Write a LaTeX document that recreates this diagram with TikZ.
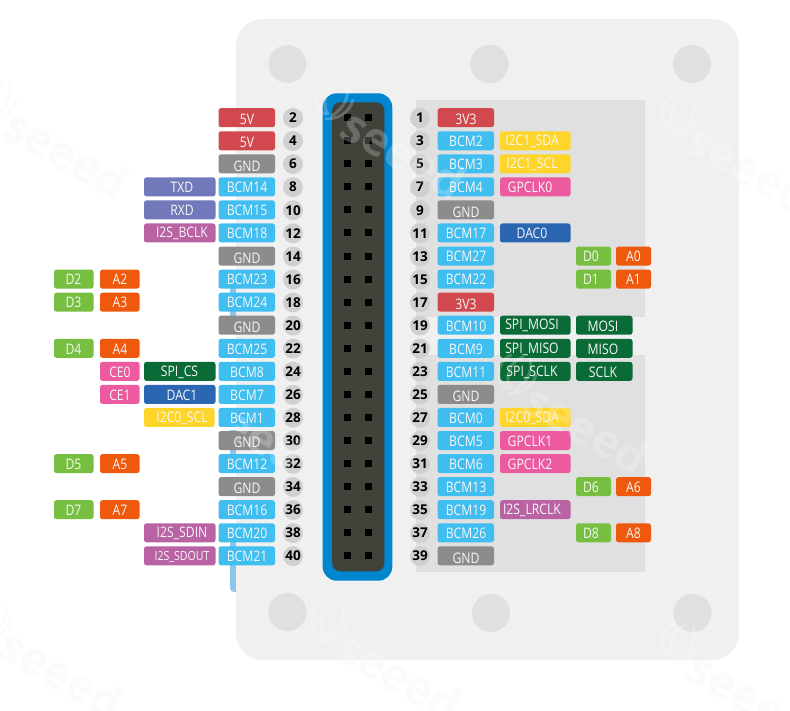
\documentclass[tikz,border=0pt]{standalone}
\usepackage{fontspec}
\setmainfont[FakeStretch=0.84]{Open Sans}
\newfontfamily\numfont{Open Sans}
\definecolor{cboard}{HTML}{F0F0F0}
\definecolor{chole}{HTML}{E0E0E0}
\definecolor{cconn}{HTML}{0085CF}
\definecolor{chead}{HTML}{41423A}
\definecolor{cnum}{HTML}{D0D0D0}
\definecolor{cstub}{HTML}{8EC5EA}
\definecolor{cred}{HTML}{D1494E}
\definecolor{cgray}{HTML}{8C8C8C}
\definecolor{cbcm}{HTML}{41BEF0}
\definecolor{cyel}{HTML}{FED52A}
\definecolor{cpink}{HTML}{EC5BA0}
\definecolor{cuart}{HTML}{7279BB}
\definecolor{ci2s}{HTML}{B962A4}
\definecolor{cspi}{HTML}{0B6B37}
\definecolor{cdac}{HTML}{2A66B1}
\definecolor{cdig}{HTML}{77BF41}
\definecolor{cana}{HTML}{EE590D}
\tikzset{
  pinbox/.style={rounded corners=2.5pt,inner sep=0pt,minimum height=19pt,draw=none},
  pinlabel/.style={inner sep=0pt,text=white!94!gray,font=\fontsize{14.5}{15}\selectfont},
  numdot/.style={circle,fill=cnum,minimum size=20pt,inner sep=0pt,text=black,font=\numfont\bfseries\fontsize{13.5}{14}\selectfont},
  pinhole/.style={fill=black,minimum size=7pt,inner sep=0pt},
  mount/.style={circle,fill=chole,minimum size=38pt,inner sep=0pt},
  wmtext/.style={inner sep=0pt,rotate=-30,font=\numfont\bfseries\fontsize{46}{46}\selectfont},
}
% [dy]{pin}{x1}{x2}{text centre x}{fill}{text}
\newcommand\pb[7][0]{%
  \pgfmathsetmacro\ry{118+floor((#2-1)/2)*23.06-0.3}%
  \pgfmathsetmacro\bw{#4-#3}%
  \pgfmathsetmacro\bc{(#4+#3)/2}%
  \pgfmathsetmacro\ly{\ry+#1+0.6}%
  \node[pinbox,fill=#6,minimum width=\bw pt] (box-#2-#3) at (\bc,\ry) {};
  \node[pinlabel] (lab-#2-#3) at (#5,\ly) {#7};
}
\newcommand\LA[4][0]{\pb[#1]{#2}{218.5}{275}{247}{#3}{#4}}
\newcommand\LB[3]{\pb{#1}{144}{215.5}{182}{#2}{#3}}
\newcommand\LC[3]{\pb{#1}{100}{139.5}{120}{#2}{#3}}
\newcommand\LD[3]{\pb{#1}{54}{93.5}{73.5}{#2}{#3}}
\newcommand\RA[4][0]{\pb[#1]{#2}{437.5}{494}{466}{#3}{#4}}
\newcommand\RB[3]{\pb{#1}{500}{570.5}{532}{#2}{#3}}
\newcommand\RG[3]{\pb{#1}{500}{570.5}{530}{#2}{#3}}
\newcommand\RC[3]{\pb{#1}{576}{611}{591}{#2}{#3}}
\newcommand\RD[3]{\pb{#1}{616}{651}{633.5}{#2}{#3}}
\newcommand\RE[3]{\pb{#1}{576}{632.5}{603}{#2}{#3}}
\newcommand\wmark[2]{%
  \begin{scope}[shift={(#1,#2)},line cap=round,line width=3pt,fill=none]
    \draw (-4,-20) .. controls (-20,-12) and (-20,8) .. (-6,14);
    \draw (8,-18) .. controls (-8,-12) and (-10,6) .. (-4,14);
    \draw (15,-16) .. controls (18,-4) and (12,8) .. (0,16);
    \draw (21,0) .. controls (17,14) and (5,19) .. (-6,19);
  \end{scope}
  \node[wmtext,anchor=west] (wm-#1-#2) at ($(#1,#2)+(14,20)$) {seeed};
}
\usetikzlibrary{calc}
\begin{document}
\begin{tikzpicture}[x=1pt,y=-1pt]
\useasboundingbox (0,0) rectangle (790,711);
\clip (0,0) rectangle (790,711);
\fill[white] (0,0) rectangle (790,711);
% faint watermark on the white ground
\begin{scope}[color=black!1.5,text=black!1.5]
  \foreach \wx/\wy in {-10/620,328/622,678/643,678/115,-5/100}{\wmark{\wx}{\wy}}
\end{scope}
% stub behind the board
\fill[cstub] (230,288) rectangle (236,320);
\fill[cstub] (230,430) rectangle (236,470);
\fill[cstub,rounded corners=4pt] (230,525) -- (230,592) -- (240,592) -- (240,525) -- cycle;
% board
\fill[cboard,rounded corners=27pt] (236,19) rectangle (739,660);
\fill[chole] (416,100) rectangle (645,317);
\fill[chole] (416,355) rectangle (645,572);
\node[mount] (m1) at (287.5,64) {};
\node[mount] (m2) at (489.5,64) {};
\node[mount] (m3) at (692,64) {};
\node[mount] (m4) at (287.5,612) {};
\node[mount] (m5) at (491,613) {};
\node[mount] (m6) at (692.5,613) {};
% header
\fill[cconn,rounded corners=14pt] (322.7,93.3) rectangle (392.3,580.7);
\fill[chead,rounded corners=8pt] (332.2,102.3) rectangle (384.4,571.3);
\foreach \r in {0,...,19}{
  \pgfmathsetmacro\py{117.7+\r*23.06}
  \node[pinhole] (pa\r) at (347.5,\py) {};
  \node[pinhole] (pb\r) at (368.5,\py) {};
}
% pin numbers
\foreach \n in {1,3,...,39}{
  \pgfmathsetmacro\py{118+(\n-1)/2*23.06}
  \node[numdot] (n\n) at (420,\py) {\n};
}
\foreach \n in {2,4,...,40}{
  \pgfmathsetmacro\py{118+(\n-2)/2*23.06}
  \node[numdot] (n\n) at (293,\py) {\n};
}
% left side
\LA[1.5]{2}{cred}{5V}
\LA[1.5]{4}{cred}{5V}
\LA[1.5]{6}{cgray}{GND}
\LA{8}{cbcm}{BCM14}
\LA{10}{cbcm}{BCM15}
\LA{12}{cbcm}{BCM18}
\LA[1.5]{14}{cgray}{GND}
\LA{16}{cbcm}{BCM23}
\LA{18}{cbcm}{BCM24}
\LA[1.5]{20}{cgray}{GND}
\LA{22}{cbcm}{BCM25}
\LA{24}{cbcm}{BCM8}
\LA{26}{cbcm}{BCM7}
\LA{28}{cbcm}{BCM1}
\LA[1.5]{30}{cgray}{GND}
\LA{32}{cbcm}{BCM12}
\LA[1.5]{34}{cgray}{GND}
\LA{36}{cbcm}{BCM16}
\LA{38}{cbcm}{BCM20}
\LA{40}{cbcm}{BCM21}
\LB{8}{cuart}{TXD}
\LB{10}{cuart}{RXD}
\LB{12}{ci2s}{I2S\_BCLK}
\pb{24}{144}{215.5}{179.5}{cspi}{SPI\_CS}
\LB{26}{cdac}{DAC1}
\pb{28}{144}{214.5}{182}{cyel}{I2C0\_SCL}
\LB{38}{ci2s}{I2S\_SDIN}
\LB{40}{ci2s}{{\fontsize{12.6}{13}\selectfont I2S\_SDOUT}}
\LC{16}{cana}{A2}
\LC{18}{cana}{A3}
\LC{22}{cana}{A4}
\LC{24}{cpink}{CE0}
\LC{26}{cpink}{CE1}
\LC{32}{cana}{A5}
\LC{36}{cana}{A7}
\LD{16}{cdig}{D2}
\LD{18}{cdig}{D3}
\LD{22}{cdig}{D4}
\LD{32}{cdig}{D5}
\LD{36}{cdig}{D7}
% right side
\RA[1.5]{1}{cred}{3V3}
\RA{3}{cbcm}{BCM2}
\RA{5}{cbcm}{BCM3}
\RA{7}{cbcm}{BCM4}
\RA[1.5]{9}{cgray}{GND}
\RA{11}{cbcm}{BCM17}
\RA{13}{cbcm}{BCM27}
\RA{15}{cbcm}{BCM22}
\RA[1.5]{17}{cred}{3V3}
\RA{19}{cbcm}{BCM10}
\RA{21}{cbcm}{BCM9}
\RA{23}{cbcm}{BCM11}
\RA[1.5]{25}{cgray}{GND}
\RA{27}{cbcm}{BCM0}
\RA{29}{cbcm}{BCM5}
\RA{31}{cbcm}{BCM6}
\RA{33}{cbcm}{BCM13}
\RA{35}{cbcm}{BCM19}
\RA{37}{cbcm}{BCM26}
\RA[1.5]{39}{cgray}{GND}
\RB{3}{cyel}{I2C1\_SDA}
\RB{5}{cyel}{I2C1\_SCL}
\RG{7}{cpink}{GPCLK0}
\RB{11}{cdac}{DAC0}
\RB{19}{cspi}{SPI\_MOSI}
\RB{21}{cspi}{SPI\_MISO}
\RB{23}{cspi}{SPI\_SCLK}
\RB{27}{cyel}{I2C0\_SDA}
\RG{29}{cpink}{GPCLK1}
\RG{31}{cpink}{GPCLK2}
\RB{35}{ci2s}{I2S\_LRCLK}
\RC{13}{cdig}{D0}
\RC{15}{cdig}{D1}
\RC{33}{cdig}{D6}
\RC{37}{cdig}{D8}
\RD{13}{cana}{A0}
\RD{15}{cana}{A1}
\RD{33}{cana}{A6}
\RD{37}{cana}{A8}
\RE{19}{cspi}{MOSI}
\RE{21}{cspi}{MISO}
\RE{23}{cspi}{SCLK}
% white watermark over everything on the board
\begin{scope}
  \clip[rounded corners=27pt] (236,19) rectangle (739,660);
  \begin{scope}[color=white,text=white,opacity=0.22,text opacity=0.22]
    \foreach \wx/\wy in {332/100,678/115,170/372,515/375,328/622,678/643}{\wmark{\wx}{\wy}}
  \end{scope}
\end{scope}
\end{tikzpicture}
\end{document}
